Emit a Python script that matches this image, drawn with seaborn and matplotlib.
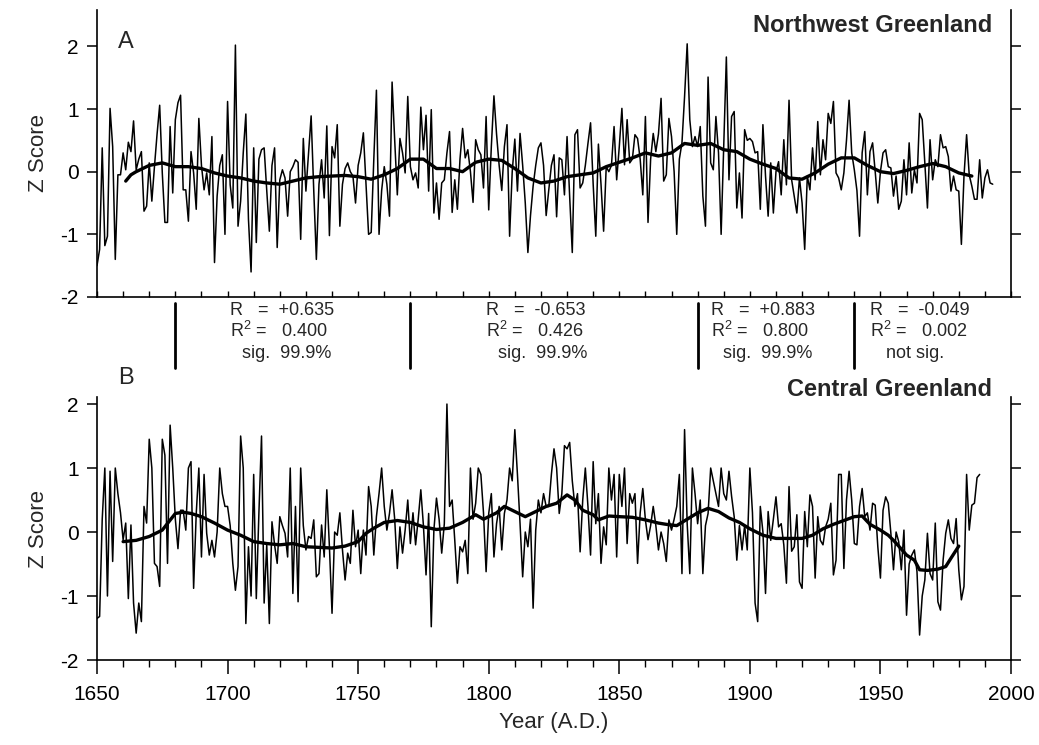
import numpy as np
import pandas as pd
import matplotlib
matplotlib.use("Agg")
import matplotlib.pyplot as plt
import seaborn as sns
from matplotlib.lines import Line2D

# ---------------- data ----------------
years_a = list(range(1650, 1994))
nw_greenland = [
    -1.5, -1.24, 0.38, -1.18, -1.03, 1.01, 0.4, -1.4, -0.05, -0.05,            # 1650
    0.3, 0.03, 0.47, 0.32, 0.81, 0.03, 0.2, 0.32, -0.63, -0.55,                 # 1660
    0.14, -0.47, 0.08, 0.6, 1.06, -0.02, -0.81, -0.81, 0.72, -0.34,             # 1670
    0.83, 1.1, 1.22, -0.29, -0.29, -0.79, 0.32, -0.02, -0.6, 0.85,              # 1680
    0.1, -0.29, -0.02, -0.37, 0.56, -1.45, -0.39, 0.1, 0.27, -1.0,              # 1690
    1.12, -0.21, -0.58, 2.02, -0.87, -0.47, 0.3, 0.92, -0.76, -1.6,             # 1700
    0.38, -1.13, 0.2, 0.35, 0.38, -0.3, -0.95, 0.1, 0.38, -1.21,                # 1710
    -0.13, 0.03, -0.1, -0.71, 0.0, 0.08, 0.19, 0.15, -1.08, 0.53,               # 1720
    -0.31, 0.3, 0.89, -0.3, -1.4, -0.2, 0.19, -0.42, 0.73, -1.02,               # 1730
    0.4, 0.22, 0.75, -0.87, -0.2, 0.05, 0.14, 0.0, -0.07, -0.5,                 # 1740
    0.1, 0.3, 0.62, -0.2, -1.0, -0.97, 0.2, 1.3, -1.0, -0.3,                    # 1750
    0.08, -0.2, -0.71, 1.43, 0.5, -0.37, 0.53, 0.3, -0.02, 1.2,                 # 1760
    0.08, -0.13, -0.02, -0.26, 1.03, 0.35, 0.9, -0.31, 0.99, -0.66,             # 1770
    -0.18, -0.76, -0.18, -0.13, 0.3, 0.64, -0.65, -0.13, -0.6, 0.2,             # 1780
    0.69, 0.22, 0.35, 0.0, -0.49, 0.51, 0.35, 0.27, -0.26, 0.88,                # 1790
    -0.61, 0.4, 1.21, 0.6, 0.1, -0.3, 0.4, 0.75, -1.03, 0.0,                    # 1800
    0.52, -0.31, 0.61, 0.1, -0.5, -1.29, -0.7, -0.23, 0.1, 0.38,                # 1810
    0.46, 0.1, -0.7, -0.29, 0.1, 0.27, -0.72, 0.22, 0.19, -0.37,                # 1820
    0.56, -0.4, -1.29, 0.59, 0.67, -0.26, -0.18, 0.1, 0.45, 0.78,               # 1830
    -0.2, -1.03, 0.44, -0.2, -0.95, 0.08, 0.0, 0.1, 0.72, -0.13,                # 1840
    0.4, 1.01, 0.11, 0.83, 0.14, 0.2, 0.59, 0.53, 0.2, -0.37,                   # 1850
    0.88, -0.81, 0.2, 0.61, 0.32, 0.6, 1.17, -0.15, -0.05, 0.85,                # 1860
    0.56, 0.0, -1.0, 0.2, 0.46, 1.2, 2.04, 0.83, 0.4, 0.56,                     # 1870
    0.4, 0.72, -0.39, -0.87, 1.51, 0.14, 0.03, 0.88, 0.3, -1.0,                 # 1880
    0.4, 1.83, -0.13, 0.88, 0.96, -0.58, -0.02, -0.74, 0.67, 0.5,               # 1890
    0.53, 0.48, 0.3, 0.32, -0.6, 0.75, -0.07, -0.71, 0.14, -0.66,               # 1900
    0.0, 0.16, -0.37, 0.51, -0.21, 1.14, -0.13, -0.4, -0.66, -0.1,              # 1910
    -0.5, -1.24, -0.07, -0.29, 0.38, -0.13, 0.8, -0.05, 0.51, 0.19,             # 1920
    0.93, 0.77, 1.12, -0.02, -0.1, -0.29, -0.02, 0.5, 1.14, 0.3,                # 1930
    0.03, -0.3, -1.03, 0.3, 0.64, -0.37, 0.32, 0.46, 0.0, -0.5,                 # 1940
    0.0, 0.3, 0.35, 0.08, 0.06, -0.39, -0.07, -0.6, -0.47, 0.19,                # 1950
    -0.37, 0.46, -0.34, 0.03, -0.18, 0.93, 0.83, 0.14, -0.58, 0.51,             # 1960
    -0.13, 0.19, 0.08, 0.59, 0.38, 0.4, 0.24, -0.31, -0.07, -0.29,              # 1970
    -0.31, -1.16, -0.07, 0.59, -0.05, -0.23, -0.44, -0.44, 0.19, -0.42,         # 1980
    -0.1, 0.03, -0.18, -0.2,                                                    # 1990
]
smooth_years_a = [1661, 1663, 1665, 1670, 1675, 1680, 1685, 1690, 1695, 1700,
                  1705, 1710, 1715, 1720, 1725, 1730, 1735, 1740, 1745, 1750,
                  1755, 1760, 1765, 1770, 1775, 1780, 1785, 1790, 1795, 1800,
                  1805, 1810, 1815, 1820, 1825, 1830, 1835, 1840, 1845, 1850,
                  1855, 1860, 1865, 1870, 1875, 1880, 1885, 1890, 1895, 1900,
                  1905, 1910, 1915, 1920, 1925, 1930, 1935, 1940, 1945, 1950,
                  1955, 1960, 1965, 1970, 1975, 1980, 1985]
nw_smooth = [-0.15, -0.05, 0.0, 0.1, 0.14, 0.08, 0.08, 0.05, -0.02, -0.07,
             -0.1, -0.15, -0.18, -0.2, -0.15, -0.1, -0.08, -0.07, -0.06, -0.08,
             -0.12, -0.05, 0.05, 0.2, 0.2, 0.05, 0.05, 0.0, 0.15, 0.2,
             0.18, 0.05, -0.1, -0.18, -0.15, -0.08, -0.05, -0.02, 0.08, 0.15,
             0.22, 0.3, 0.25, 0.3, 0.45, 0.42, 0.45, 0.35, 0.32, 0.2,
             0.12, 0.05, -0.1, -0.12, -0.02, 0.12, 0.22, 0.22, 0.1, 0.0,
             -0.03, 0.02, 0.08, 0.13, 0.08, -0.02, -0.07]

years_b = list(range(1650, 1989))
c_greenland = [
    -1.35, -1.32, 0.2, 1.0, -1.0, 0.95, -0.46, 1.0, 0.6, 0.3,                   # 1650
    -0.12, 0.14, -1.04, 0.11, -1.11, -1.58, -1.11, -1.4, 0.4, 0.14,             # 1660
    1.45, 1.0, -0.49, -0.54, -0.85, 1.45, 1.2, -0.49, 1.67, 1.0,                # 1670
    0.2, -0.26, 0.34, 0.34, 0.03, 1.0, 1.1, -0.88, 0.29, 1.0,                   # 1680
    -0.39, 0.9, -0.02, -0.36, -0.13, -0.39, 0.0, 1.0, 0.6, 0.4,                 # 1690
    0.4, 0.1, -0.49, -0.91, -0.54, 1.5, 1.0, -1.43, -0.23, -1.0,                # 1700
    0.9, -1.04, 0.3, 1.5, -1.11, -0.2, -1.43, 0.16, -0.2, -0.49,                # 1710
    0.24, 0.1, -0.02, -0.39, 1.0, -0.96, 0.4, -1.09, 1.0, 0.1,                  # 1720
    -0.28, -0.07, -0.1, 0.19, -0.7, -0.65, 0.11, -0.39, 0.66, -0.23,            # 1730
    -1.27, 0.0, -0.05, 0.3, -0.28, -0.75, -0.33, -0.49, 0.34, -0.23,            # 1740
    0.03, -0.65, 0.03, -0.36, 0.71, 0.4, -0.36, 0.24, 0.6, 1.0,                 # 1750
    0.4, 0.03, 0.29, 0.66, 0.2, -0.57, 0.08, -0.33, 0.03, 0.5,                  # 1760
    -0.18, 0.3, -0.2, 0.2, 0.66, 0.1, -0.67, 0.29, -1.48, 0.03,                 # 1770
    0.53, 0.2, -0.33, 0.13, 2.0, 0.4, 0.5, -0.13, -0.8, -0.23,                  # 1780
    -0.31, -0.13, -0.65, 1.0, 0.2, 0.45, 1.0, 0.9, 0.3, -0.62,                  # 1790
    0.29, 0.6, -0.39, 0.13, 0.4, -0.28, 0.29, 0.5, 1.0, 0.8,                    # 1800
    1.6, 0.9, 0.13, -0.7, 0.0, -0.23, 0.2, -1.19, 0.03, 0.5,                    # 1810
    0.3, 0.6, 0.4, 0.4, 0.9, 1.3, 1.0, 0.29, 0.6, 1.35,                         # 1820
    1.3, 1.4, 0.8, 0.4, 0.6, -0.31, 0.5, 1.0, 0.4, -0.36,                       # 1830
    1.1, 0.13, 0.6, -0.49, 0.08, -0.2, 1.0, 0.5, 0.9, -0.39,                    # 1840
    0.9, 0.4, 1.0, -0.18, 0.6, 0.45, 0.6, -0.49, 0.3, 0.68,                     # 1850
    0.19, -0.12, 0.1, 0.4, 0.1, -0.28, 0.0, -0.18, -0.46, 0.19,                 # 1860
    0.03, 0.2, 0.4, 0.9, -0.65, 1.6, 0.13, -0.65, 1.0, 0.6,                     # 1870
    0.13, 0.5, -0.65, 0.1, 0.29, 1.0, 0.8, 0.6, 0.4, 1.0,                       # 1880
    0.6, 0.5, 0.95, 0.56, 0.24, -0.44, 0.1, -0.28, 0.1, -0.28,                  # 1890
    1.0, 0.3, -1.11, -1.4, 0.4, 0.0, -0.96, 0.32, -0.13, 0.2,                   # 1900
    0.55, 0.08, 0.13, -0.2, -0.8, 0.71, -0.3, -0.23, 0.27, -0.78,               # 1910
    -0.88, 0.32, -0.23, 0.58, 0.4, -0.72, 0.24, -0.13, -0.2, 0.08,              # 1920
    0.2, 0.45, -0.67, -0.44, 0.9, 0.9, -0.57, 0.5, 0.95, 0.5,                   # 1930
    -0.18, -0.2, 0.4, 0.68, 0.24, 0.3, 0.03, 0.45, 0.42, -0.23,                 # 1940
    -0.72, 0.34, 0.55, 0.45, -0.02, -0.59, 0.0, -0.15, -0.59, 0.03,             # 1950
    -1.3, -0.5, -0.36, -0.28, -0.62, -1.61, -1.0, -0.75, -0.02, -0.65,          # 1960
    -0.75, 0.14, -1.09, -1.22, -0.44, -0.02, 0.19, -0.1, -0.18, 0.21,           # 1970
    -0.59, -1.06, -0.85, 0.9, 0.03, 0.42, 0.45, 0.85, 0.9,                      # 1980
]
smooth_years_b = [1660, 1665, 1670, 1675, 1680, 1683, 1686, 1690, 1695, 1700,
                  1705, 1710, 1715, 1720, 1725, 1730, 1735, 1740, 1745, 1750,
                  1753, 1756, 1760, 1765, 1770, 1775, 1780, 1785, 1790, 1795,
                  1798, 1803, 1806, 1810, 1814, 1818, 1822, 1826, 1830, 1833,
                  1836, 1840, 1842, 1846, 1850, 1855, 1860, 1865, 1868, 1872,
                  1876, 1880, 1884, 1888, 1892, 1896, 1900, 1905, 1910, 1915,
                  1920, 1924, 1928, 1932, 1936, 1940, 1943, 1946, 1950, 1953,
                  1955, 1957, 1960, 1963, 1965, 1968, 1972, 1975, 1977, 1980]
c_smooth = [-0.15, -0.13, -0.07, 0.03, 0.29, 0.31, 0.29, 0.24, 0.14, 0.03,
            -0.05, -0.15, -0.18, -0.2, -0.18, -0.23, -0.24, -0.25, -0.22, -0.15,
            -0.02, 0.06, 0.15, 0.18, 0.15, 0.08, 0.04, 0.06, 0.15, 0.27,
            0.2, 0.3, 0.4, 0.32, 0.24, 0.32, 0.4, 0.45, 0.58, 0.5,
            0.34, 0.27, 0.19, 0.25, 0.24, 0.23, 0.19, 0.14, 0.12, 0.1,
            0.2, 0.3, 0.37, 0.32, 0.22, 0.15, 0.05, -0.05, -0.1, -0.1,
            -0.1, -0.05, 0.05, 0.12, 0.18, 0.24, 0.25, 0.12, 0.03, -0.05,
            -0.13, -0.22, -0.36, -0.44, -0.59, -0.6, -0.58, -0.54, -0.41, -0.22]

split_years = [1680, 1770, 1880, 1940]
stat_label_years = [1701, 1799, 1885, 1946]
r_values = ["+0.635", "-0.653", "+0.883", "-0.049"]
r2_values = ["0.400", "0.426", "0.800", "0.002"]
sig_values = ["sig.  99.9%", "sig.  99.9%", "sig.  99.9%", "not sig."]
x_ticks = [1650, 1700, 1750, 1800, 1850, 1900, 1950, 2000]
y_ticks = [-2, -1, 0, 1, 2]

# ---------------- style ----------------
sns.set_theme(style="white")
plt.rcParams['font.family'] = ['Liberation Sans', 'DejaVu Sans']
plt.rcParams['mathtext.fontset'] = 'custom'
plt.rcParams['mathtext.rm'] = 'Liberation Sans'
plt.rcParams['mathtext.it'] = 'Liberation Sans'

W, H = 1039, 745
fig = plt.figure(figsize=(W / 100, H / 100), dpi=100)
fig.patch.set_facecolor("white")

def px_axes(left, top, right, bottom):
    return fig.add_axes([left / W, 1 - bottom / H, (right - left) / W, (bottom - top) / H])

axA = px_axes(97, 10, 1011, 297)
axB = px_axes(97, 397, 1011, 660)

dfA = pd.DataFrame({"year": years_a, "z": nw_greenland})
dfAs = pd.DataFrame({"year": smooth_years_a, "z": nw_smooth})
dfB = pd.DataFrame({"year": years_b, "z": c_greenland})
dfBs = pd.DataFrame({"year": smooth_years_b, "z": c_smooth})

for ax, d, ds in [(axA, dfA, dfAs), (axB, dfB, dfBs)]:
    sns.lineplot(data=d, x="year", y="z", ax=ax, color="black", lw=1.1)
    sns.lineplot(data=ds, x="year", y="z", ax=ax, color="black", lw=2.4)
    ax.set_xlim(1650, 2000)
    ax.set_yticks(y_ticks)
    ax.set_yticklabels([str(v) for v in y_ticks], fontsize=15)
    ax.set_ylabel("Z Score", fontsize=16, labelpad=8)
    ax.spines['top'].set_visible(False)
    for s in ['left', 'right', 'bottom']:
        ax.spines[s].set_color("black")
        ax.spines[s].set_linewidth(1.2)
    ax.tick_params(axis='y', which='both', left=True, right=True, direction='out',
                   length=7, width=1.1, colors="black", labelcolor="black", pad=6)
    ax.set_xticks(range(1650, 2001, 10), minor=True)
    ax.set_facecolor("white")
    ax.grid(False)

axA.set_ylim(-2, 2.58)
axB.set_ylim(-2, 2.11)

axA.set_xticks(x_ticks)
axA.set_xticklabels([])
axA.set_xlabel("")
axA.tick_params(axis='x', which='both', bottom=True, direction='in', length=4, width=1.0, colors="black")

axB.set_xticks(x_ticks)
axB.set_xticklabels([str(v) for v in x_ticks], fontsize=15)
axB.tick_params(axis='x', which='major', bottom=True, direction='out', length=10, width=1.1,
                colors="black", labelcolor="black", pad=8)
axB.tick_params(axis='x', which='minor', bottom=True, direction='out', length=5, width=1.0, colors="black")
axB.set_xlabel("Year (A.D.)", fontsize=16, labelpad=6)

# panel labels
fig.text(118 / W, 1 - 42 / H, "A", fontsize=17, ha="left", va="center")
fig.text(992 / W, 1 - 25 / H, "Northwest Greenland", fontsize=17, fontweight="bold", ha="right", va="center")
fig.text(118 / W, 1 - 378 / H, "B", fontsize=17, ha="left", va="center")
fig.text(992 / W, 1 - 390 / H, "Central Greenland", fontsize=17, fontweight="bold", ha="right", va="center")

# correlation statistics between panels
to_fig_x = lambda yr: (axB.transData.transform((yr, 0))[0]) / W
row_y = [310, 331, 353]
for yr in split_years:
    xf = to_fig_x(yr)
    fig.add_artist(Line2D([xf, xf], [1 - 303 / H, 1 - 368 / H], color="black", lw=2.0))
for yr, r, r2, sg in zip(stat_label_years, r_values, r2_values, sig_values):
    xf = to_fig_x(yr)
    fig.text(xf, 1 - row_y[0] / H, "R   =  " + r, fontsize=13, ha="left", va="center")
    fig.text(xf, 1 - row_y[1] / H, "R$^2$ =   " + r2, fontsize=13, ha="left", va="center")
    fig.text(xf + (12 / W if sg.startswith("sig") else 16 / W), 1 - row_y[2] / H, sg,
             fontsize=13, ha="left", va="center")

fig.savefig("out.png", dpi=100, facecolor="white")
